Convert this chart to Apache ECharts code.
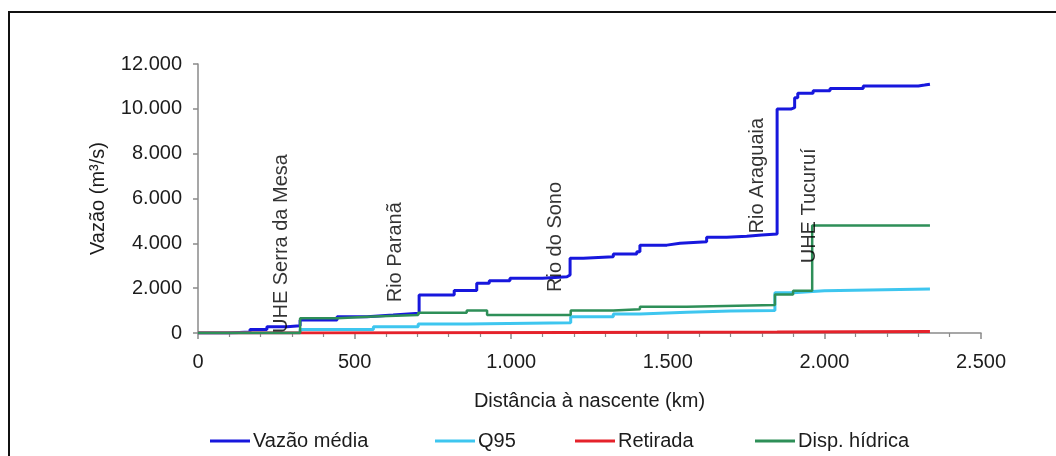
<!DOCTYPE html>
<html>
<head>
<meta charset="utf-8">
<script src="https://cdn.jsdelivr.net/npm/echarts@6/dist/echarts.min.js"></script>
<style>
html,body{margin:0;padding:0;background:#fff;}
#chart{width:1056px;height:456px;}
</style>
</head>
<body>
<div id="chart"></div>
<script>
// ---- data (km from source, flow m3/s) ----
const seriesNames = ['Vazão média', 'Q95', 'Retirada', 'Disp. hídrica'];
const vazaoMedia = [[0,0],[96,40],[166,160],[220,280],[284,320],[326,580],[444,730],[540,800],[623,880],[706,1700],[818,1900],[890,2220],[930,2330],[996,2440],[1100,2510],[1178,2590],[1188,3330],[1230,3400],[1326,3520],[1401,3630],[1411,3920],[1497,4000],[1539,4070],[1624,4270],[1688,4320],[1752,4370],[1800,4420],[1849,9990],[1893,10050],[1905,10500],[1915,10690],[1964,10810],[2018,10910],[2124,11020],[2300,11060],[2320,11100],[2337,11100]];
const q95 = [[0,0],[326,160],[560,280],[703,400],[858,460],[1190,730],[1326,850],[1411,930],[1561,980],[1700,1000],[1842,1800],[1900,1880],[2000,1960],[2337,1960]];
const retirada = [[0,0],[326,20],[1190,40],[1849,70],[2337,70]];
const dispHidrica = [[0,0],[326,660],[444,740],[560,800],[703,900],[858,1000],[923,800],[1190,1000],[1326,1060],[1411,1170],[1561,1250],[1842,1720],[1900,1890],[1961,4790],[2337,4790]];
const annotNames = ['UHE Serra da Mesa', 'Rio Paranã', 'Rio do Sono', 'Rio Araguaia', 'UHE Tucuruí'];
const annotKm = [265, 629, 1140, 1787, 1952];
const annotVal = [0, 1370, 1830, 4440, 3110];
const xTicks = [0, 500, 1000, 1500, 2000, 2500];
const yTicks = [0, 2000, 4000, 6000, 8000, 10000, 12000];

const colors = ['#1717dd', '#3ec6ef', '#e5222b', '#2e8f58'];
const FONT = "'Liberation Sans', Arial, sans-serif";
const TXT = '#1c1c1c';
const fmt = v => String(v).replace(/\B(?=(\d{3})+(?!\d))/g, '.');

const lineData = [vazaoMedia, q95, retirada, dispHidrica];
const widths = [3, 3, 3, 2.5];
const lineSeries = lineData.map((d, i) => ({
  name: seriesNames[i],
  type: 'line',
  step: 'end',
  data: d,
  showSymbol: false,
  symbol: 'none',
  lineStyle: { color: colors[i], width: widths[i] },
  itemStyle: { color: colors[i] },
  z: 2 + i,
  animation: false
}));

const annotSeries = {
  type: 'scatter',
  data: annotKm.map((k, i) => [k, annotVal[i], annotNames[i]]),
  symbolSize: 1,
  itemStyle: { color: 'rgba(0,0,0,0)' },
  silent: true,
  z: 10,
  animation: false,
  label: {
    show: true,
    position: 'inside',
    rotate: 90,
    align: 'left',
    verticalAlign: 'middle',
    formatter: p => p.data[2],
    fontFamily: FONT,
    fontSize: 20,
    color: '#000'
  }
};

const legendLefts = [205, 430, 570, 750];
const legends = seriesNames.map((n, i) => ({
  data: [n],
  left: legendLefts[i],
  top: 426,
  icon: 'rect',
  itemWidth: 40,
  itemHeight: 3,
  itemGap: 0,
  selectedMode: false,
  textStyle: { fontFamily: FONT, fontSize: 20, color: TXT, padding: [0,0,0,-2] }
}));

const chart = echarts.init(document.getElementById('chart'), null, { renderer: 'canvas' });
chart.setOption({
  animation: false,
  backgroundColor: '#fff',
  graphic: [{
    type: 'rect',
    shape: { x: 9, y: 12, width: 1200, height: 600 },
    style: { fill: 'none', stroke: '#111', lineWidth: 2 },
    silent: true
  }],
  legend: legends,
  grid: { left: 198, right: 75, top: 64, bottom: 123, containLabel: false },
  xAxis: {
    type: 'value',
    min: xTicks[0],
    max: xTicks[xTicks.length - 1],
    interval: xTicks[1] - xTicks[0],
    name: 'Distância à nascente (km)',
    nameLocation: 'middle',
    nameGap: 58,
    nameTextStyle: { fontFamily: FONT, fontSize: 20, color: TXT },
    axisLine: { lineStyle: { color: '#8a8a8a', width: 1.5 } },
    axisTick: { show: true, length: 6, lineStyle: { color: '#8a8a8a', width: 1.5 } },
    minorTick: { show: true, splitNumber: 5, length: 4, lineStyle: { color: '#8a8a8a', width: 1.2 } },
    splitLine: { show: false },
    axisLabel: { fontFamily: FONT, fontSize: 20, color: TXT, margin: 19, formatter: fmt }
  },
  yAxis: {
    type: 'value',
    min: yTicks[0],
    max: yTicks[yTicks.length - 1],
    interval: yTicks[1] - yTicks[0],
    name: 'Vazão (m³/s)',
    nameLocation: 'middle',
    nameGap: 90,
    nameTextStyle: { fontFamily: FONT, fontSize: 20, color: TXT },
    axisLine: { show: true, lineStyle: { color: '#8a8a8a', width: 1.5 } },
    axisTick: { show: true, length: 5, lineStyle: { color: '#8a8a8a', width: 1.5 } },
    splitLine: { show: false },
    axisLabel: { fontFamily: FONT, fontSize: 20, color: TXT, margin: 16, formatter: fmt }
  },
  series: lineSeries.concat([annotSeries])
});
</script>
</body>
</html>
